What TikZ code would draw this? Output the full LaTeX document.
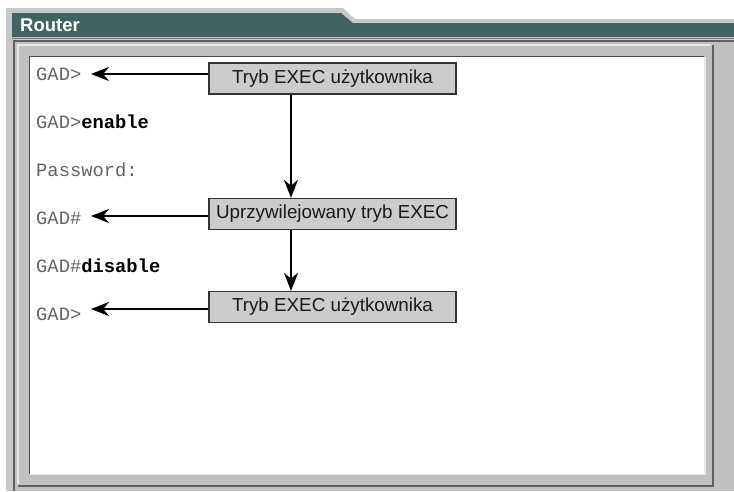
\documentclass[tikz,border=0pt]{standalone}
\usepackage{fontspec}
\setmainfont{Liberation Sans}
\newfontfamily\monofont{Liberation Mono}
\usetikzlibrary{arrows.meta}
\definecolor{teal1}{RGB}{64,100,98}
\definecolor{framegray}{RGB}{200,200,200}
\definecolor{panelgray}{RGB}{192,192,192}
\definecolor{boxgray}{RGB}{204,204,204}
\definecolor{termgray}{RGB}{100,100,100}
\definecolor{darkline}{RGB}{96,96,96}
\definecolor{lightline}{RGB}{232,232,232}
\begin{document}
\begin{tikzpicture}[x=1pt,y=-1pt,
  modebox/.style={draw=black!80, line width=1.3pt, fill=boxgray, minimum width=247pt,
    minimum height=31pt, inner sep=0pt, font=\fontsize{18.8}{20}\selectfont, text=black!90},
  term/.style={anchor=base west, inner sep=0pt, font=\monofont\fontsize{18.8}{20}\selectfont, text=termgray},
  arr/.style={line width=2.6pt, -{Stealth[length=18pt,width=14pt]}}]
\useasboundingbox (0,0) rectangle (734,491);
\fill[white] (0,0) rectangle (734,491);
% outer frame
\fill[framegray] (6,8) -- (343,8) -- (355,19) -- (734,19) -- (734,491) -- (6,491) -- cycle;
\fill[teal1] (12,13) -- (341,13) -- (353,23) -- (734,23) -- (734,37) -- (12,37) -- cycle;
\draw[gray, line width=1.5pt] (12,38.5) -- (734,38.5);
% inner panel
\fill[panelgray] (13,40) rectangle (734,491);
\draw[darkline, line width=2pt] (14,491) -- (14,40.5) -- (734,40.5);
\draw[lightline, line width=1.5pt] (18,484) -- (18,45) -- (711,45);
\draw[darkline, line width=2pt] (18,486) -- (712.5,486) -- (712.5,45);
% white terminal area
\fill[white] (30,57) rectangle (704,474);
\draw[lightline, line width=1.5pt] (30,474.5) -- (705,474.5) -- (705,57);
\draw[black!70, line width=1.2pt] (29.5,474) -- (29.5,56.5) -- (704,56.5);
% title
\node[anchor=base west, text=white, font=\bfseries\fontsize{18.5}{20}\selectfont, inner sep=0pt] (title) at (20,31) {Router};
% terminal lines
\node[term] (l1) at (36,80) {GAD>};
\node[term] (l2) at (36,128) {GAD>\textcolor{black}{\textbf{enable}}};
\node[term] (l3) at (36,176) {Password:};
\node[term] (l4) at (36,224) {GAD\#};
\node[term] (l5) at (36,272) {GAD\#\textcolor{black}{\textbf{disable}}};
\node[term] (l6) at (36,320) {GAD>};
% mode boxes
\node[modebox] (b1) at (332.5,78.5) {Tryb EXEC użytkownika};
\node[modebox] (b2) at (332.5,214) {Uprzywilejowany tryb EXEC};
\node[modebox] (b3) at (332.5,307) {Tryb EXEC użytkownika};
% arrows
\coordinate (t1) at (91,74);
\coordinate (t2) at (91,216);
\coordinate (t3) at (91,309);
\coordinate (v) at (291,0);
\draw[arr] (b1.west |- t1) -- (t1);
\draw[arr] (b2.west |- t2) -- (t2);
\draw[arr] (b3.west |- t3) -- (t3);
\draw[arr] (b1.south -| v) -- (b2.north -| v);
\draw[arr] (b2.south -| v) -- (b3.north -| v);
\end{tikzpicture}
\end{document}
